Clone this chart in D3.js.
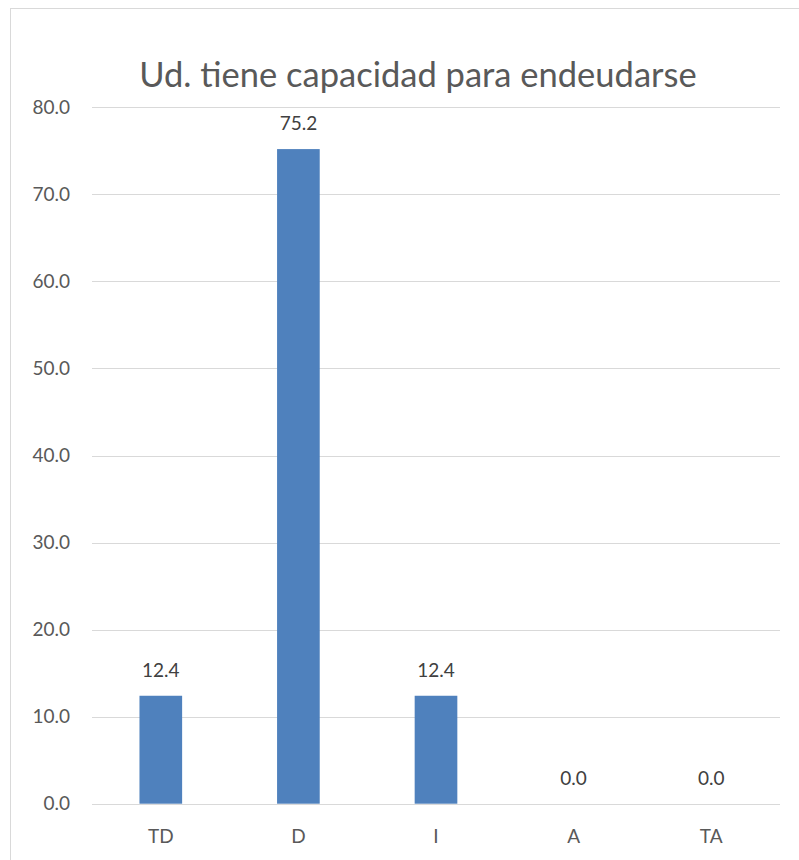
<!DOCTYPE html>
<html>
<head>
<meta charset="utf-8">
<script src="https://cdn.jsdelivr.net/npm/d3@7"></script>
<style>
  html, body { margin: 0; padding: 0; background: #fff; }
  svg { display: block; }
</style>
</head>
<body>
<svg id="chart" width="799" height="860"></svg>
<script>
// Survey response distribution (%)
const categories = ["TD", "D", "I", "A", "TA"];
const values = [12.4, 75.2, 12.4, 0.0, 0.0];
const yTicks = [0, 10, 20, 30, 40, 50, 60, 70, 80];
const title = "Ud. tiene capacidad para endeudarse";

const svg = d3.select("#chart");
const font = "Lato, 'Open Sans', sans-serif";
const textColor = "#595959";

// chart frame
svg.append("rect")
  .attr("x", 10.5).attr("y", 8.5)
  .attr("width", 830).attr("height", 900)
  .attr("fill", "#fff").attr("stroke", "#d9d9d9").attr("stroke-width", 1);

const plot = { left: 92, right: 780, top: 107.3, bottom: 803.7 };

const x = d3.scaleBand()
  .domain(categories)
  .range([plot.left, plot.right])
  .paddingInner(0.69)
  .paddingOuter(0.345);

const y = d3.scaleLinear()
  .domain([0, 80])
  .range([plot.bottom, plot.top]);

// gridlines
svg.append("g")
  .selectAll("line")
  .data(yTicks)
  .join("line")
  .attr("x1", plot.left).attr("x2", plot.right)
  .attr("y1", d => Math.round(y(d)) + 0.5).attr("y2", d => Math.round(y(d)) + 0.5)
  .attr("stroke", "#d9d9d9").attr("stroke-width", 1.2);

// y axis labels
const yAxis = d3.axisLeft(y).tickValues(yTicks).tickFormat(d3.format(".1f")).tickSize(0).tickPadding(22);
const gy = svg.append("g").attr("transform", `translate(${plot.left},0)`).call(yAxis);
gy.select(".domain").remove();
gy.selectAll("text")
  .attr("fill", textColor).attr("font-family", font).attr("font-size", 19);

// bars
svg.append("g")
  .selectAll("rect")
  .data(values)
  .join("rect")
  .attr("x", (d, i) => x(categories[i]))
  .attr("width", x.bandwidth())
  .attr("y", d => y(d))
  .attr("height", d => y(0) - y(d))
  .attr("fill", "#4f81bd");

// value labels
svg.append("g")
  .selectAll("text")
  .data(values)
  .join("text")
  .attr("x", (d, i) => x(categories[i]) + x.bandwidth() / 2)
  .attr("y", d => y(d) - 19)
  .attr("text-anchor", "middle")
  .attr("fill", "#404040").attr("font-family", font).attr("font-size", 19)
  .text(d => d3.format(".1f")(d));

// x axis labels
const xAxis = d3.axisBottom(x).tickSize(0).tickPadding(26);
const gx = svg.append("g").attr("transform", `translate(0,${plot.bottom})`).call(xAxis);
gx.select(".domain").remove();
gx.selectAll("text")
  .attr("fill", textColor).attr("font-family", font).attr("font-size", 19);

// title
svg.append("text")
  .attr("x", 418).attr("y", 87)
  .attr("text-anchor", "middle")
  .attr("fill", textColor).attr("font-family", font).attr("font-size", 34.5)
  .text(title);
</script>
</body>
</html>
